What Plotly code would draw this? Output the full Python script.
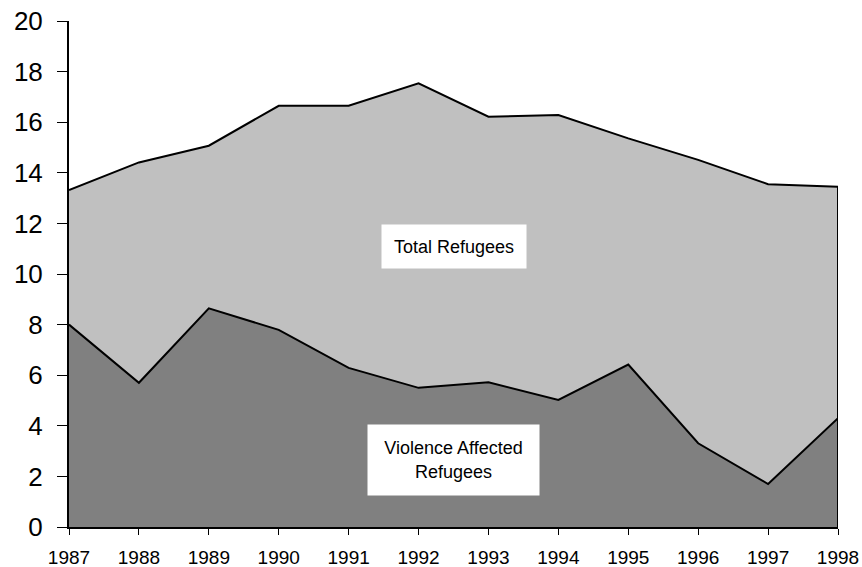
import plotly.graph_objects as go

years = [1987, 1988, 1989, 1990, 1991, 1992, 1993, 1994, 1995, 1996, 1997, 1998]
total_refugees = [13.32, 14.41, 15.07, 16.65, 16.65, 17.54, 16.22, 16.28, 15.36, 14.51, 13.55, 13.45]
violence_refugees = [8.0, 5.70, 8.64, 7.79, 6.29, 5.50, 5.72, 5.02, 6.42, 3.31, 1.70, 4.30]
y_ticks = [0, 2, 4, 6, 8, 10, 12, 14, 16, 18, 20]

FONT = "Liberation Sans, Arial, sans-serif"

fig = go.Figure()
# filled areas
fig.add_trace(go.Scatter(x=years, y=total_refugees, mode="lines", fill="tozeroy",
                         fillcolor="#C0C0C0", line=dict(width=0, color="#C0C0C0"),
                         hoverinfo="skip", showlegend=False))
fig.add_trace(go.Scatter(x=years, y=violence_refugees, mode="lines", fill="tozeroy",
                         fillcolor="#808080", line=dict(width=0, color="#808080"),
                         hoverinfo="skip", showlegend=False))
# outlines
fig.add_trace(go.Scatter(x=years + [years[-1]], y=total_refugees + [0], mode="lines",
                         line=dict(color="black", width=2), showlegend=False))
fig.add_trace(go.Scatter(x=years, y=violence_refugees, mode="lines",
                         line=dict(color="black", width=2), showlegend=False))

fig.add_annotation(x=1992.5, y=11.1, text="Total Refugees", showarrow=False,
                   bgcolor="white", width=144, height=43, borderpad=0,
                   font=dict(family=FONT, size=18, color="black"))
fig.add_annotation(x=1992.5, y=2.65, text="Violence Affected<br>Refugees", showarrow=False,
                   bgcolor="white", width=171, height=70, borderpad=0,
                   font=dict(family=FONT, size=18, color="black"))

fig.update_layout(
    width=862, height=567,
    margin=dict(l=69, r=24, t=21, b=40, autoexpand=False),
    paper_bgcolor="white", plot_bgcolor="white",
    font=dict(family=FONT, color="black"),
    showlegend=False,
)
fig.update_xaxes(range=[years[0], years[-1]], tickmode="array", tickvals=years,
                 ticktext=[str(y) for y in years], showgrid=False, zeroline=False,
                 showline=True, linecolor="black", linewidth=2, automargin=False,
                 ticks="outside", ticklen=6, tickcolor="black", tickwidth=1,
                 ticklabelstandoff=6,
                 tickfont=dict(family=FONT, size=19, color="black"))
fig.update_yaxes(range=[0, 20], tickmode="array", tickvals=y_ticks, showgrid=False,
                 zeroline=False, showline=True, linecolor="black", linewidth=2,
                 automargin=False,
                 ticks="outside", ticklen=10, tickcolor="black", tickwidth=1,
                 ticklabelstandoff=9,
                 tickfont=dict(family=FONT, size=26, color="black"))

fig.write_html("out.html", config={"displayModeBar": False},
               post_script="document.body.style.margin='0';document.body.style.overflow='hidden';")
